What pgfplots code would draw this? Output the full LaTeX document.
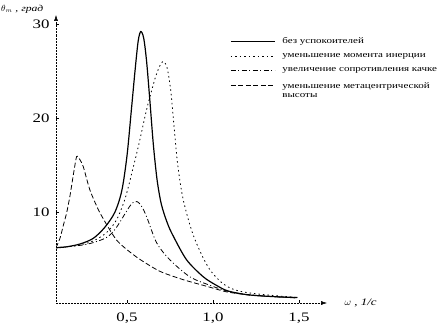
\documentclass[border=0pt]{standalone}
\usepackage{fontspec}
\setmainfont{Liberation Serif}
\newfontfamily\wideserif[FakeStretch=1.3]{Liberation Serif}
\usepackage{pgfplots}
\pgfplotsset{compat=1.18}
\usetikzlibrary{arrows.meta}

\pgfplotstableread{
w t
0.087 6.2
0.15 6.3
0.227 6.6
0.304 7.2
0.372 8.4
0.43 10.0
0.47 12.3
0.50 16.0
0.525 20.8
0.547 25.1
0.565 28.2
0.58 29.2
0.597 28.5
0.614 26.0
0.634 21.6
0.653 17.2
0.675 13.4
0.70 10.8
0.735 8.8
0.77 7.4
0.847 4.9
0.944 3.1
1.02 2.2
1.087 1.6
1.2 1.2
1.35 1.0
1.49 0.9
}\solid

\pgfplotstableread{
w t
0.087 6.2
0.2 6.4
0.3 6.9
0.38 7.8
0.44 9.2
0.49 11.5
0.53 14.3
0.57 17.3
0.614 20.9
0.663 24.2
0.695 25.7
0.715 26.0
0.735 25.2
0.755 22.8
0.775 18.8
0.795 15.0
0.827 11.3
0.886 7.5
0.97 4.2
1.05 2.5
1.13 1.7
1.25 1.3
1.49 0.9
}\inertia

\pgfplotstableread{
w t
0.087 6.2
0.246 6.5
0.33 6.9
0.39 7.4
0.44 8.4
0.508 10.4
0.535 11.0
0.56 11.1
0.585 10.6
0.614 9.5
0.673 6.7
0.75 4.9
0.866 3.1
0.983 2.2
1.08 1.6
1.2 1.2
1.35 1.0
1.49 0.9
}\resist

\pgfplotstableread{
w t
0.087 6.2
0.11 7.2
0.13 8.6
0.15 10.0
0.169 11.8
0.19 14.2
0.207 15.9
0.225 15.6
0.246 14.8
0.285 12.3
0.343 9.9
0.44 7.0
0.556 5.2
0.69 3.7
0.827 2.8
0.963 2.1
1.08 1.5
1.2 1.2
1.35 1.0
1.49 0.85
}\metac

\begin{document}
\begin{tikzpicture}
\useasboundingbox (-56bp,-26bp) rectangle (383bp,303bp);
\begin{axis}[
  at={(0,0)}, anchor=south west,
  scale only axis, width=271bp, height=288bp,
  xmin=0.087, xmax=1.663, ymin=0.32, ymax=30.96,
  axis lines=left,
  axis line style={black, line width=0.5pt, densely dotted, -{Latex[length=6bp,width=4bp]}},
  xtick={0.5,1.0,1.5}, ytick={10,20,30},
  tick align=inside, major tick length=3bp,
  tick style={black, line width=0.4pt},
  /pgf/number format/assume math mode=true,
  ticklabel style={font=\wideserif\fontsize{13}{13}\selectfont},
  xticklabel style={/pgf/number format/fixed, /pgf/number format/fixed zerofill, /pgf/number format/precision=1, /pgf/number format/use comma, yshift=-6bp},
  yticklabel style={xshift=-3bp},
  every axis y label/.style={at={(rel axis cs:0,1)}, anchor=west, xshift=-55bp, yshift=6bp, inner sep=0pt},
  every axis x label/.style={at={(rel axis cs:1,0)}, anchor=west, xshift=14bp},
  ylabel={\wideserif\fontsize{9}{9}\selectfont$\theta_m$ , \textit{град}},
  xlabel={\wideserif\fontsize{10}{10}\selectfont$\omega$ , \textit{1/с}},
  legend style={at={(0.642,0.925)}, anchor=north west, draw=none, fill=none,
    font=\wideserif\fontsize{8.5}{9}\selectfont, row sep=6.5bp,
    inner sep=0pt, nodes={inner sep=1bp}},
  legend cell align=left,
  legend image code/.code={\draw[#1] (0bp,0bp) -- (44bp,0bp);},
  every axis plot/.append style={smooth, tension=0.5},
]
\addplot[black, line width=1.2pt] table[x=w,y=t]{\solid};
\addlegendentry{\hspace{6bp}без успокоителей}
\addplot[black, line width=0.8pt, dash pattern=on 1.5bp off 3bp] table[x=w,y=t]{\inertia};
\addlegendentry{\hspace{6bp}уменьшение момента инерции}
\addplot[black, line width=0.8pt, dash pattern=on 5bp off 2.5bp on 1bp off 2.5bp] table[x=w,y=t]{\resist};
\addlegendentry{\hspace{6bp}увеличение сопротивления качке}
\addplot[black, line width=0.8pt, dash pattern=on 5bp off 2.5bp, tension=0.4] table[x=w,y=t]{\metac};
\addlegendentry{\hspace{6bp}\begin{tabular}[t]{@{}l@{}}уменьшение метацентрической\\высоты\end{tabular}}
\end{axis}
\end{tikzpicture}
\end{document}
